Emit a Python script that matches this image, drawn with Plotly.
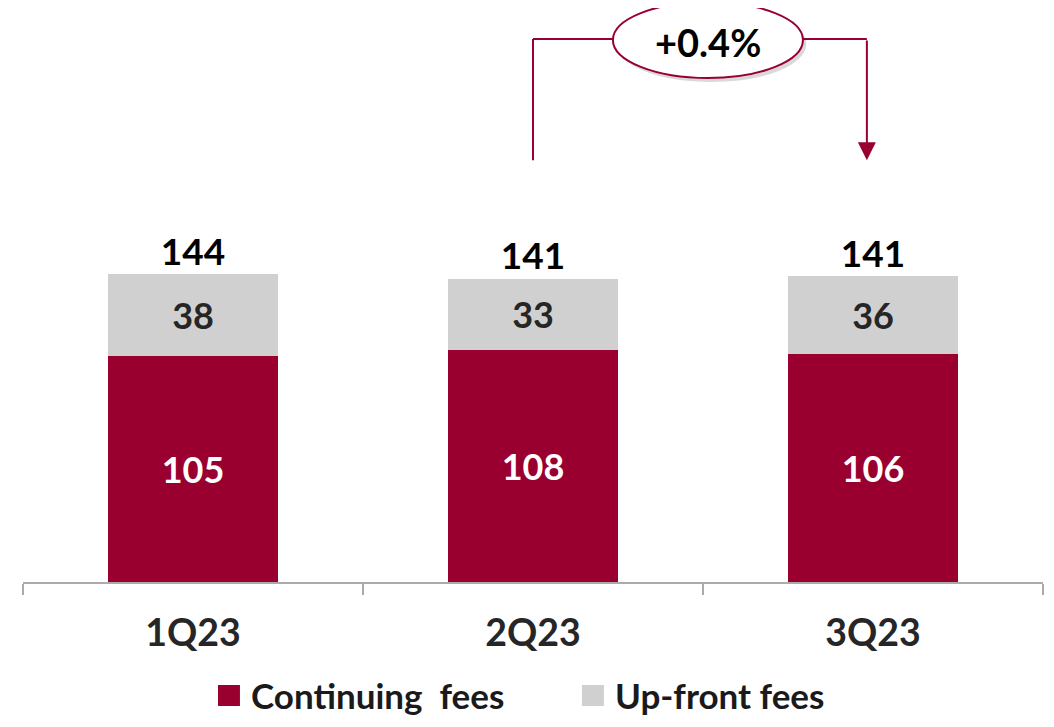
import plotly.graph_objects as go

quarters = ["1Q23", "2Q23", "3Q23"]
continuing_fees = [105, 108, 106]
upfront_fees = [38, 33, 36]
totals = [144, 141, 141]
growth_label = "+0.4%"

CRIMSON = "#990030"
GREY = "#D0D0D0"
FONT = "Lato"

fig = go.Figure()
fig.add_trace(go.Bar(x=quarters, y=continuing_fees, name="Continuing\u00a0\u00a0fees",
                     marker=dict(color=CRIMSON, line=dict(width=0)),
                     text=continuing_fees, textposition="inside",
                     insidetextanchor="middle",
                     textfont=dict(family=FONT, size=36, color="white", weight="bold"),
                     showlegend=False))
fig.add_trace(go.Bar(x=quarters, y=upfront_fees, name="Up-front fees",
                     marker=dict(color=GREY, line=dict(width=0)),
                     text=upfront_fees, textposition="inside",
                     insidetextanchor="middle",
                     textfont=dict(family=FONT, size=36, color="#262626", weight="bold"),
                     showlegend=False))
# totals on top of the stacks
stack = [a + b for a, b in zip(continuing_fees, upfront_fees)]
fig.add_trace(go.Scatter(x=quarters, y=stack, mode="text", text=totals,
                         textposition="top center",
                         textfont=dict(family=FONT, size=37, color="black", weight="bold"),
                         showlegend=False, cliponaxis=False))

# growth arrow from 2Q23 to 3Q23
y_low, y_high = 196, 252.3
x_left, x_right = 1, 1.982
fig.add_shape(type="line", x0=x_left, x1=x_left, y0=y_low, y1=y_high,
              line=dict(color=CRIMSON, width=2))
fig.add_shape(type="line", x0=x_left, x1=x_right, y0=y_high, y1=y_high,
              line=dict(color=CRIMSON, width=2))
fig.add_annotation(x=x_right, y=y_low, ax=x_right, ay=y_high,
                   xref="x", yref="y", axref="x", ayref="y",
                   showarrow=True, arrowhead=2, arrowsize=1.8, arrowwidth=2,
                   arrowcolor=CRIMSON, text="")
# ellipse (with a soft shadow)
fig.add_shape(type="circle", xref="x", yref="paper", x0=1.245, x1=1.804,
              y0=0.871, y1=1.0035, fillcolor="rgba(0,0,0,0.15)", line=dict(width=0))
fig.add_shape(type="circle", xref="x", yref="paper", x0=1.235, x1=1.794,
              y0=0.878, y1=1.0105, fillcolor="white", line=dict(color=CRIMSON, width=2))
fig.add_annotation(x=1.5145, y=251, xref="x", yref="y", text=growth_label,
                   showarrow=False,
                   font=dict(family=FONT, size=38, color="black", weight="bold"))

# hand-made legend with big swatches
for trace, xpos in zip(fig.data[:2], [0.1912, 0.548]):
    fig.add_shape(type="rect", xref="paper", yref="paper",
                  x0=xpos, x1=xpos + 0.0215, y0=-0.216, y1=-0.1794,
                  fillcolor=trace.marker.color, line=dict(width=0))
    fig.add_annotation(xref="paper", yref="paper", x=xpos + 0.0313, y=-0.1969,
                       xanchor="left", yanchor="middle", text=trace.name,
                       showarrow=False, borderpad=0,
                       font=dict(family=FONT, size=35, color="#1a1a1a", weight="bold"))

# page body has an 8px margin, so the figure is sized/offset for that
fig.update_layout(
    barmode="stack", bargap=0.5,
    width=1038, height=711,
    margin=dict(l=15, r=3, t=0, b=137),
    plot_bgcolor="white", paper_bgcolor="white",
    font=dict(family=FONT),
)
fig.update_xaxes(range=[-0.5, 2.5], showline=True, linecolor="#ABABAB", linewidth=2,
                 ticks="outside", tickson="boundaries", ticklen=11, tickcolor="#ABABAB",
                 tickwidth=2, showgrid=False, ticklabelstandoff=17, automargin=False,
                 tickfont=dict(family=FONT, size=37.5, color="#262626", weight="bold"))
fig.update_yaxes(range=[0, 266.7], visible=False, showgrid=False)

fig.write_html("out.html")
